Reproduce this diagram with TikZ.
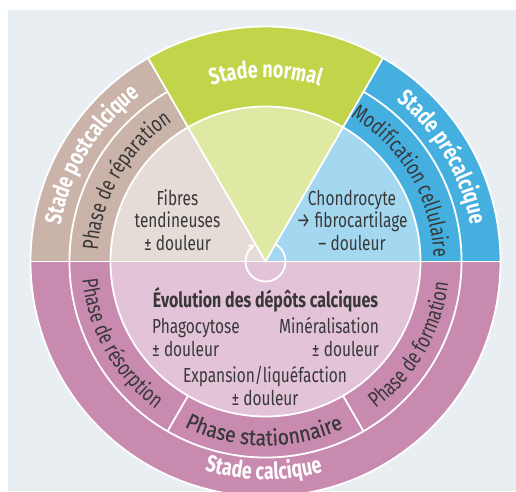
\documentclass[tikz,border=0pt]{standalone}
\usepackage{fontspec}
\setmainfont{Fira Sans}[FakeStretch=0.76]
\newfontfamily\widefont{Fira Sans}[FakeStretch=0.88,FakeBold=0.3]
\usepackage{xcolor}
\usetikzlibrary{arrows.meta,decorations.text}

% Colours of the four stages
\definecolor{paper}{HTML}{E9EEF2}
\definecolor{normaldark}{HTML}{C1D44A}
\definecolor{normallight}{HTML}{DFE9A4}
\definecolor{postdark}{HTML}{CAB3A9}
\definecolor{postlight}{HTML}{E5DBD7}
\definecolor{predark}{HTML}{45B0E0}
\definecolor{prelight}{HTML}{A4D8F0}
\definecolor{calcdark}{HTML}{C98AB0}
\definecolor{calclight}{HTML}{E3C3D8}
\definecolor{inktext}{HTML}{383838}

% Fonts for the ring labels
\newcommand{\stadefont}{\bfseries\fontsize{23.5}{26}\selectfont\color{white}}
\newcommand{\phasefont}{\fontsize{22}{24}\selectfont\color{inktext}}
\newcommand{\widephasefont}{\widefont\fontsize{22}{24}\selectfont\color{inktext}}

\begin{document}
\begin{tikzpicture}[x=1pt,y=1pt,
        sep/.style={white,line width=1.8pt},
        inner/.style={font=\fontsize{20.3}{22.5}\selectfont,text=inktext,inner sep=0pt,anchor=base},
        ringlabel/.style={decorate,decoration={text along path,text align=center,text={#1}}}]
    \useasboundingbox (-265.5,-229.5) rectangle (250.5,261.5);
    % Draw paper background
    \fill[paper] (-257.5,-229.5) rectangle (250.5,251.5);
    \clip (-257.5,-229.5) rectangle (250.5,251.5);

    % Draw the four stages: outer band first, then the inner sector
    \fill[normaldark] (0,0) -- (60:235) arc[start angle=60,end angle=120,radius=235] -- cycle;
    \fill[normallight] (0,0) -- (60:155) arc[start angle=60,end angle=120,radius=155] -- cycle;
    \fill[postdark] (0,0) -- (120:235) arc[start angle=120,end angle=180,radius=235] -- cycle;
    \fill[postlight] (0,0) -- (120:155) arc[start angle=120,end angle=180,radius=155] -- cycle;
    \fill[predark] (0,0) -- (0:235) arc[start angle=0,end angle=60,radius=235] -- cycle;
    \fill[prelight] (0,0) -- (0:155) arc[start angle=0,end angle=60,radius=155] -- cycle;
    \fill[calcdark] (0,0) -- (180:235) arc[start angle=180,end angle=360,radius=235] -- cycle;
    \fill[calclight] (0,0) -- (180:155) arc[start angle=180,end angle=360,radius=155] -- cycle;

    % Draw white rings and spokes
    \draw[sep] (0,0) circle[radius=235];
    \draw[sep] (0,0) circle[radius=155];
    \draw[sep] (120:196) arc[start angle=120,end angle=420,radius=196];
    \draw[sep] (180:235) -- (0:235);
    \draw[sep] (60:235) -- (0,0) -- (120:235);
    \draw[sep] (240:155) -- (240:196);
    \draw[sep] (300:155) -- (300:196);

    % Draw the cycle arrow in the middle
    \draw[white,line width=1.8pt,-{Stealth[length=7pt,width=7pt]}] (58:20) arc[start angle=58,end angle=-238,radius=20];

    % Stage names on the outer band
    \path[ringlabel={|\stadefont|Stade normal}] (120:184) arc[start angle=120,end angle=60,radius=184];
    \path[ringlabel={|\stadefont|Stade postcalcique}] (178.5:208) arc[start angle=178.5,end angle=118.5,radius=208];
    \path[ringlabel={|\stadefont|Stade précalcique}] (60.5:208) arc[start angle=60.5,end angle=0.5,radius=208];
    \path[ringlabel={|\stadefont|Stade calcique}] (239.5:218) arc[start angle=239.5,end angle=299.5,radius=218];

    % Phase names on the middle band
    \path[ringlabel={|\phasefont|Phase de réparation}] (180:168) arc[start angle=180,end angle=120,radius=168];
    \path[ringlabel={|\phasefont|Modification cellulaire}] (60.5:168) arc[start angle=60.5,end angle=0.5,radius=168];
    \path[ringlabel={|\phasefont|Phase de résorption}] (179.5:184) arc[start angle=179.5,end angle=239.5,radius=184];
    \path[ringlabel={|\widephasefont|Phase stationnaire}] (234.5:184) arc[start angle=234.5,end angle=304.5,radius=184];
    \path[ringlabel={|\phasefont|Phase de formation}] (300:184) arc[start angle=300,end angle=360,radius=184];

    % Texts of the inner sectors (base is the last line)
    \node[inner,align=center] (fibres) at (-88,11.5) {Fibres\\tendineuses\\± douleur};
    \node[inner,align=center] (chondro) at (86.5,11.5) {Chondrocyte\\→ fibrocartilage\\– douleur};
    \node[inner,font=\bfseries\fontsize{21}{23}\selectfont] (evolution) at (0,-45.5) {Évolution des dépôts calciques};
    \node[inner,align=left,anchor=base west] (phago) at (-113.5,-94.5) {Phagocytose\\± douleur};
    \node[inner,align=right,anchor=base east] (minera) at (113.5,-94.5) {Minéralisation\\± douleur};
    \node[inner,align=center] (expansion) at (-0.5,-143.5) {Expansion/liquéfaction\\± douleur};
\end{tikzpicture}
\end{document}
